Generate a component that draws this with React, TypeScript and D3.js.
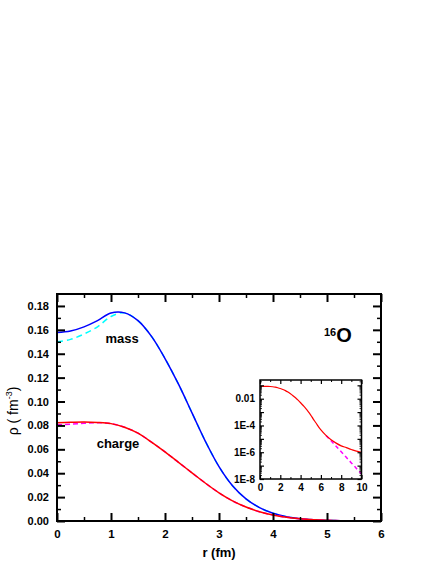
import React, { useEffect, useRef } from 'react';
import * as d3 from 'd3';

// radial grid (fm) for the main panel
const rMain = [0, 0.25, 0.5, 0.75, 1.0, 1.25, 1.5, 1.75, 2.0, 2.25, 2.5, 2.75, 3.0, 3.25, 3.5, 3.75, 4.0, 4.25, 4.5, 4.75, 5.0, 5.25];
// mass density (blue, solid)
const mass = [0.1577, 0.159, 0.1625, 0.1677, 0.1741, 0.1742, 0.1677, 0.1545, 0.136, 0.1145, 0.0905, 0.0665, 0.0455, 0.0295, 0.0185, 0.0112, 0.0065, 0.0036, 0.0019, 0.0010, 0.0005, 0.0002];
// mass fit (cyan, dashed) differs only near the centre
const massFitHead = [0.150, 0.152, 0.1565, 0.1625, 0.1712];
// charge density (red, solid)
const charge = [0.0823, 0.0826, 0.0828, 0.0825, 0.0815, 0.0785, 0.0735, 0.066, 0.0578, 0.0491, 0.0403, 0.0316, 0.0236, 0.0169, 0.0117, 0.0078, 0.005, 0.0031, 0.0019, 0.0011, 0.0006, 0.0003];
// charge fit (magenta, dashed) near the centre
const chargeFitHead = [0.0805, 0.0810, 0.0818, 0.0823];
// charge tail for the log inset
const rTail = [5.5, 6, 6.5, 7, 7.5, 8, 8.5, 9, 9.5, 10];
const chargeTail = [1.6e-4, 4.6e-5, 1.8e-5, 8.5e-6, 4.8e-6, 3e-6, 2.2e-6, 1.6e-6, 1.2e-6, 1e-6];
// fit tail in the inset (magenta, dashed)
const rFitTail = [6.5, 7, 7.5, 8, 8.5, 9, 9.5, 10];
const chargeFitTail = [1.8e-5, 7.2e-6, 2.8e-6, 1.1e-6, 4.2e-7, 1.6e-7, 6.2e-8, 2.4e-8];

const xTicks = [0, 1, 2, 3, 4, 5, 6];
const yTicks = [0, 0.02, 0.04, 0.06, 0.08, 0.1, 0.12, 0.14, 0.16, 0.18];
const insetXTicks = [0, 2, 4, 6, 8, 10];
const insetYLabels = [1e-2, 1e-4, 1e-6, 1e-8];

const FONT = 'Liberation Sans, Arial, sans-serif';

export default function App() {
  const ref = useRef<SVGSVGElement>(null);

  useEffect(() => {
    const svg = d3.select(ref.current);
    svg.selectAll('*').remove();

    // ---------- main panel ----------
    const x = d3.scaleLinear().domain([0, 6]).range([57, 381]);
    const y = d3.scaleLinear().domain([0, 0.19]).range([521, 294]);

    const line = d3.line<number[]>()
      .x(d => x(d[0]))
      .y(d => y(d[1]))
      .curve(d3.curveCatmullRom);

    const massFit = massFitHead.concat(mass.slice(massFitHead.length));
    const chargeFit = chargeFitHead.concat(charge.slice(chargeFitHead.length));

    const curves = [
      { v: massFit, color: '#00ffff', dash: '6,4' },
      { v: mass, color: '#0000ff', dash: null },
      { v: chargeFit, color: '#ff00ff', dash: '5,3' },
      { v: charge, color: '#ff0000', dash: null },
    ];
    curves.forEach(c => {
      svg.append('path')
        .datum(rMain.map((r, i) => [r, c.v[i]]))
        .attr('d', line)
        .attr('fill', 'none')
        .attr('stroke', c.color)
        .attr('stroke-width', 1.5)
        .attr('stroke-dasharray', c.dash);
    });

    const styleAxis = (g: any, width: number) => {
      g.select('.domain').remove();
      g.selectAll('line').attr('stroke', '#000').attr('stroke-width', width);
      g.selectAll('text').attr('fill', '#000');
      g.attr('font-family', FONT).attr('font-weight', 'bold');
    };

    const xMinor = d3.range(0.5, 6, 1);
    const yMinor = d3.range(0.01, 0.19, 0.02);

    // bottom
    svg.append('g').attr('transform', 'translate(0,521)')
      .call(d3.axisBottom(x).tickValues(xTicks).tickSize(-8).tickPadding(9).tickFormat(d3.format('d')))
      .call(styleAxis, 2).attr('font-size', 11.5);
    svg.append('g').attr('transform', 'translate(0,521)')
      .call(d3.axisBottom(x).tickValues(xMinor).tickSize(-4).tickFormat(() => ''))
      .call(styleAxis, 1.5);
    // top
    svg.append('g').attr('transform', 'translate(0,294)')
      .call(d3.axisTop(x).tickValues(xTicks).tickSize(-8).tickFormat(() => ''))
      .call(styleAxis, 2);
    svg.append('g').attr('transform', 'translate(0,294)')
      .call(d3.axisTop(x).tickValues(xMinor).tickSize(-4).tickFormat(() => ''))
      .call(styleAxis, 1.5);
    // left
    svg.append('g').attr('transform', 'translate(57,0)')
      .call(d3.axisLeft(y).tickValues(yTicks).tickSize(-8).tickPadding(8).tickFormat(d3.format('.2f')))
      .call(styleAxis, 2).attr('font-size', 11);
    svg.append('g').attr('transform', 'translate(57,0)')
      .call(d3.axisLeft(y).tickValues(yMinor).tickSize(-4).tickFormat(() => ''))
      .call(styleAxis, 1.5);
    // right
    svg.append('g').attr('transform', 'translate(381,0)')
      .call(d3.axisRight(y).tickValues(yTicks).tickSize(-8).tickFormat(() => ''))
      .call(styleAxis, 2);
    svg.append('g').attr('transform', 'translate(381,0)')
      .call(d3.axisRight(y).tickValues(yMinor).tickSize(-4).tickFormat(() => ''))
      .call(styleAxis, 1.5);

    svg.append('rect')
      .attr('x', 57).attr('y', 294).attr('width', 324).attr('height', 227)
      .attr('fill', 'none').attr('stroke', '#000').attr('stroke-width', 2);

    // ---------- inset ----------
    const xi = d3.scaleLinear().domain([0, 10]).range([260, 361.5]);
    const yi = d3.scaleLog().domain([1e-8, 0.25]).range([479, 380]);

    svg.append('rect')
      .attr('x', 260).attr('y', 380).attr('width', 101.5).attr('height', 99)
      .attr('fill', '#fff');

    const lineI = d3.line<number[]>()
      .x(d => xi(d[0]))
      .y(d => yi(d[1]))
      .curve(d3.curveCatmullRom);

    const chargeAll = rMain.map((r, i) => [r, charge[i]])
      .concat(rTail.map((r, i) => [r, chargeTail[i]]));
    svg.append('path')
      .datum(rFitTail.map((r, i) => [r, chargeFitTail[i]]))
      .attr('d', lineI)
      .attr('fill', 'none').attr('stroke', '#ff00ff').attr('stroke-width', 1.5)
      .attr('stroke-dasharray', '4,3');
    svg.append('path')
      .datum(chargeAll)
      .attr('d', lineI)
      .attr('fill', 'none').attr('stroke', '#ff0000').attr('stroke-width', 1.2);

    const ixMinor = [1, 3, 5, 7, 9];
    const decades = d3.range(-8, 0).map(e => Math.pow(10, e));
    const logMinor: number[] = [];
    decades.forEach(d => {
      for (let k = 2; k <= 9; k++) if (d * k <= 0.25) logMinor.push(d * k);
    });
    const fmtLog = (d: number) => (d === 1e-2 ? '0.01' : '1E' + Math.round(Math.log10(d)));

    const iStyle = (g: any, width: number) => {
      styleAxis(g, width);
      g.attr('font-size', 10);
    };

    svg.append('g').attr('transform', 'translate(0,479)')
      .call(d3.axisBottom(xi).tickValues(insetXTicks).tickSize(-4).tickPadding(5).tickFormat(d3.format('d')))
      .call(iStyle, 1.2);
    svg.append('g').attr('transform', 'translate(0,479)')
      .call(d3.axisBottom(xi).tickValues(ixMinor).tickSize(-2).tickFormat(() => ''))
      .call(iStyle, 1);
    svg.append('g').attr('transform', 'translate(0,380)')
      .call(d3.axisTop(xi).tickValues(insetXTicks).tickSize(-4).tickFormat(() => ''))
      .call(iStyle, 1.2);
    svg.append('g').attr('transform', 'translate(0,380)')
      .call(d3.axisTop(xi).tickValues(ixMinor).tickSize(-2).tickFormat(() => ''))
      .call(iStyle, 1);

    svg.append('g').attr('transform', 'translate(260,0)')
      .call(d3.axisLeft(yi).tickValues(insetYLabels).tickSize(0).tickPadding(5).tickFormat(fmtLog))
      .call(iStyle, 1.2);
    svg.append('g').attr('transform', 'translate(260,0)')
      .call(d3.axisLeft(yi).tickValues(decades).tickSize(-4).tickFormat(() => ''))
      .call(iStyle, 1.2);
    svg.append('g').attr('transform', 'translate(260,0)')
      .call(d3.axisLeft(yi).tickValues(logMinor).tickSize(-2).tickFormat(() => ''))
      .call(iStyle, 0.8);
    svg.append('g').attr('transform', 'translate(361.5,0)')
      .call(d3.axisRight(yi).tickValues(decades).tickSize(-4).tickFormat(() => ''))
      .call(iStyle, 1.2);
    svg.append('g').attr('transform', 'translate(361.5,0)')
      .call(d3.axisRight(yi).tickValues(logMinor).tickSize(-2).tickFormat(() => ''))
      .call(iStyle, 0.8);

    svg.append('rect')
      .attr('x', 260).attr('y', 380).attr('width', 101.5).attr('height', 99)
      .attr('fill', 'none').attr('stroke', '#000').attr('stroke-width', 1.5);

    // ---------- labels ----------
    const txt = svg.append('g').attr('font-family', FONT).attr('fill', '#000');
    txt.append('text').attr('x', 122).attr('y', 343).attr('text-anchor', 'middle')
      .attr('font-size', 13).attr('font-weight', 'bold').text('mass');
    txt.append('text').attr('x', 118).attr('y', 448).attr('text-anchor', 'middle')
      .attr('font-size', 13).attr('font-weight', 'bold').text('charge');

    const iso = txt.append('text').attr('font-weight', 'bold');
    iso.append('tspan').attr('x', 324).attr('y', 336).attr('font-size', 11).text('16');
    iso.append('tspan').attr('y', 342).attr('font-size', 20).text('O');

    txt.append('text').attr('x', 219).attr('y', 557).attr('text-anchor', 'middle')
      .attr('font-size', 13).attr('font-weight', 'bold').text('r (fm)');

    const yl = txt.append('text').attr('transform', 'translate(18,411) rotate(-90)')
      .attr('text-anchor', 'middle').attr('font-size', 14);
    yl.append('tspan').text('ρ ( fm');
    yl.append('tspan').attr('font-size', 9).attr('dy', -6).text('-3');
    yl.append('tspan').attr('dy', 6).text(')');
  }, []);

  return (
    <svg ref={ref} width={436} height={564}
      style={{ position: 'absolute', left: 0, top: 0, background: '#fff' }} />
  );
}
